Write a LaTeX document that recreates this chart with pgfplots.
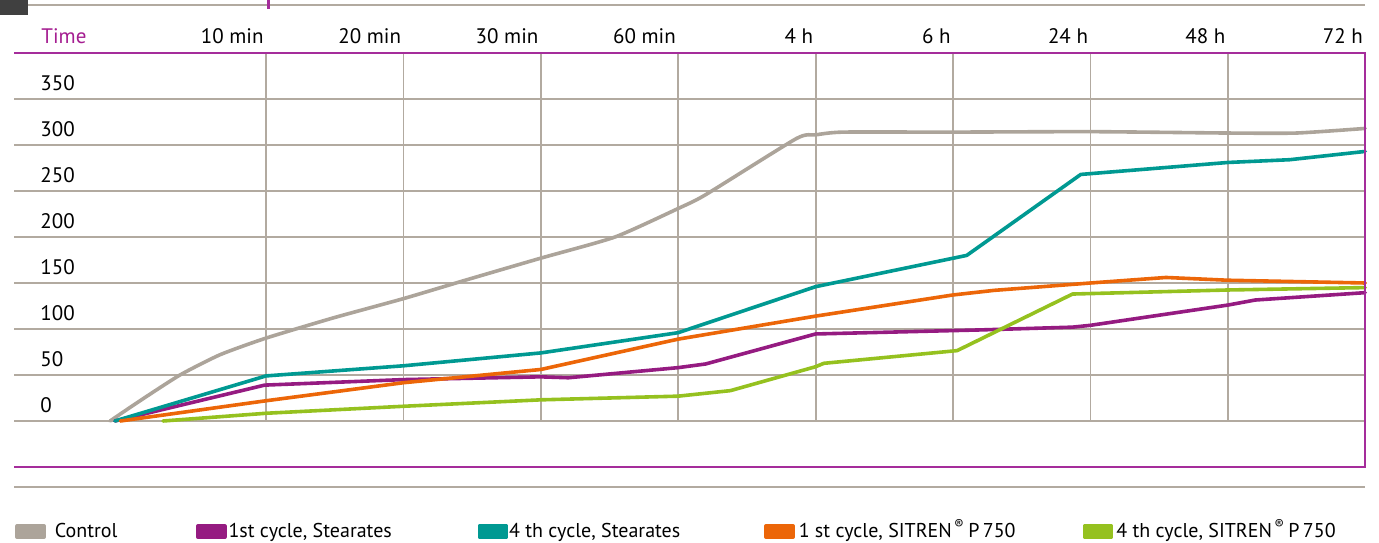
\documentclass[border=0pt]{standalone}
\usepackage{pgfplots}
\pgfplotsset{compat=1.18}
\usepackage{fontspec}
\setmainfont{PT Sans}
\definecolor{cgray}{RGB}{172,164,154}
\definecolor{cgrid}{RGB}{178,170,160}
\definecolor{cpurple}{RGB}{149,27,129}
\definecolor{cteal}{RGB}{0,153,146}
\definecolor{corange}{RGB}{236,102,8}
\definecolor{cgreen}{RGB}{149,193,31}
\definecolor{cframe}{RGB}{165,45,155}
\definecolor{ctime}{RGB}{165,30,145}
\begin{document}
\begin{tikzpicture}[font=\fontsize{10.5}{12}\selectfont]
\begin{axis}[
  x=68.7pt, y=0.46pt,
  xmin=-0.834, xmax=9, ymin=0, ymax=400,
  clip=false,
  axis line style={draw=none},
  tick style={draw=none},
  /pgf/number format/assume math mode=true,
  grid=major,
  grid style={cgrid, line width=0.9pt},
  xtick={1,2,3,4,5,6,7,8,9},
  xticklabels={10 min,20 min,30 min,60 min,4 h,6 h,24 h,48 h,72 h},
  xticklabel pos=upper,
  xticklabel style={anchor=base east, inner sep=0pt, xshift=-1pt, yshift=4.5pt},
  ytick={0,50,100,150,200,250,300,350},
  yticklabels={0,50,100,150,200,250,300,350},
  yticklabel style={anchor=base west, inner sep=0pt, xshift=13pt, yshift=4pt},
  legend columns=5,
  legend style={at={(0.0007,-0.296)}, anchor=west, draw=none, fill=none,
    font=\fontsize{10}{12}\selectfont,
    inner sep=0pt, column sep=0pt, row sep=0pt, nodes={inner sep=0pt, anchor=base west}},
  legend image code/.code={\fill[#1] (0pt,0pt) rectangle (13.5pt,5.5pt);},
  every axis plot/.append style={line width=1.8pt, line join=round, line cap=round},
]
\addplot[cgray, smooth, tension=0.35] coordinates {(-0.135,0) (0.083,22) (0.374,50) (0.665,72) (0.998,90) (1.488,112) (2.0,133) (2.45,153) (3.0,177) (3.54,200) (4.0,231) (4.2,246) (4.86,307) (5.0,311) (5.2,314) (6,314) (7,314.5) (8,313) (8.5,313) (9,318)};
\addlegendentry{\makebox[75pt][l]{\hspace{4.5pt}Control}}
\addplot[cpurple] coordinates {(-0.10,0) (0.99,39) (2.0,45) (3.0,48) (3.2,47) (4.0,58) (4.2,62) (5.0,94.6) (6.2,99) (6.87,102) (7.0,104) (8.0,126) (8.2,131.5) (9,139.5)};
\addlegendentry{\makebox[125.5pt][l]{\hspace{1pt}1st cycle, Stearates}}
\addplot[cteal] coordinates {(-0.10,0) (1.0,49) (2.0,60) (3.0,74) (4.0,96) (4.1,101) (5.0,146) (6.1,180) (6.93,268) (8.0,281) (8.45,284) (9,293)};
\addlegendentry{\makebox[128pt][l]{\hspace{0.5pt}4 th cycle, Stearates}}
\addplot[corange] coordinates {(-0.06,0) (1,22) (2,41.6) (3,56) (4,89) (5,114) (6,137) (6.3,142) (7,150) (7.55,156) (8,153) (9,150)};
\addlegendentry{\makebox[144pt][l]{\hspace{2pt}1 st cycle, SITREN\textsuperscript{\,\textregistered}\,P\,750}}
\addplot[cgreen] coordinates {(0.25,0) (1,8.4) (2,16) (3,23) (4,27) (4.38,33) (5,59) (5.06,62.7) (6.03,76.5) (6.87,138) (8,142.4) (9,145)};
\addlegendentry{\hspace{1.5pt}4 th cycle, SITREN\textsuperscript{\,\textregistered}\,P\,750}
% frame
\draw[cframe, line width=0.8pt] (axis cs:-0.834,400) -- (axis cs:9,400) -- (axis cs:9,-50) -- (axis cs:-0.834,-50);
\draw[cgrid, line width=0.9pt] (axis cs:-0.834,-71.7) -- (axis cs:9,-71.7);
\draw[cgrid, line width=0.9pt] (axis cs:-0.732,452) -- (axis cs:9,452);
\draw[cframe, line width=1.5pt] (axis cs:1.015,448) -- (axis cs:1.015,457.6);
\fill[black!75] (axis cs:-0.936,441) rectangle (axis cs:-0.732,457.6);
\node[anchor=base west, inner sep=0pt, text=ctime, xshift=13.5pt, yshift=4.5pt] at (axis cs:-0.834,400) {Time};
\coordinate (BL) at (axis cs:-0.936,-132.6);
\coordinate (TR) at (axis cs:9.1004,457.6);
\end{axis}
\pgfresetboundingbox
\useasboundingbox (BL) rectangle (TR);
\end{tikzpicture}
\end{document}
